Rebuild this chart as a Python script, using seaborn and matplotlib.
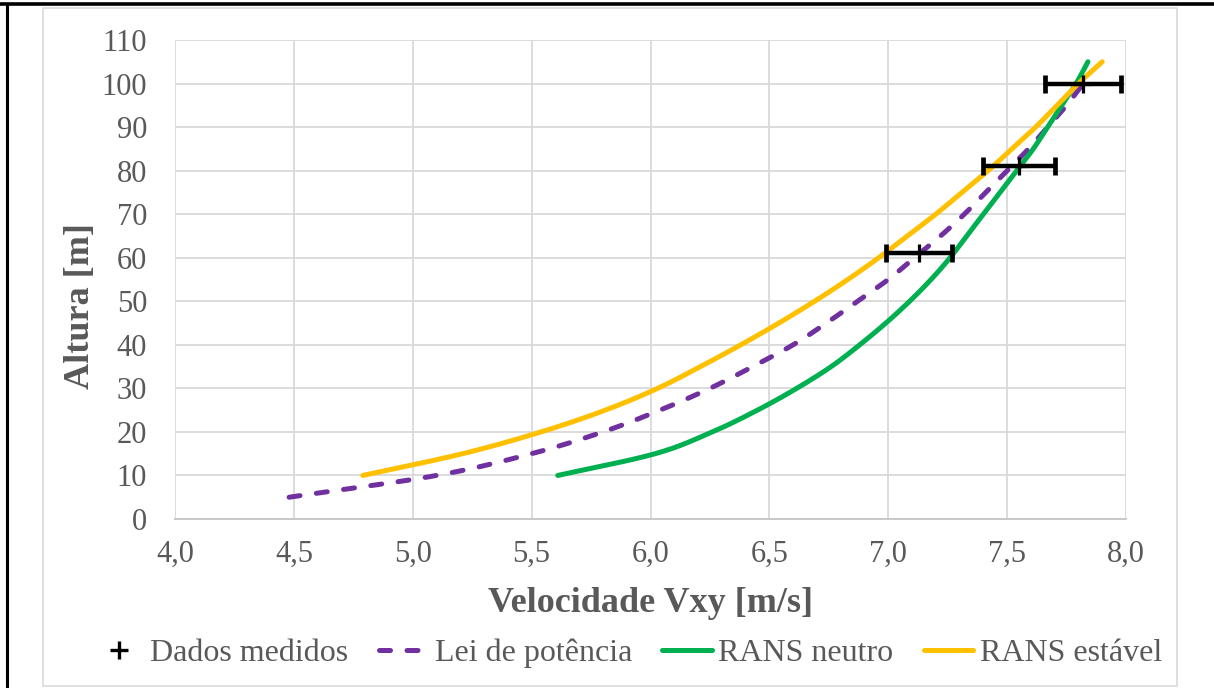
import numpy as np
import pandas as pd
import matplotlib
matplotlib.use("Agg")
import matplotlib.pyplot as plt
from matplotlib.lines import Line2D
from matplotlib.patches import Rectangle
from matplotlib.ticker import FuncFormatter, FixedLocator
import seaborn as sns

# --- dados -----------------------------------------------------------------
# medições com incerteza horizontal
med_altura = [61, 81, 100]
med_vel = [7.13, 7.55, 7.82]
med_erro = [0.14, 0.15, 0.16]

# lei de potência
lei_altura = [5, 10, 15, 20, 25, 30, 35, 40, 45, 50,
              55, 60, 65, 70, 75, 80, 85, 90, 95, 100]
lei_vel = [4.48, 5.10, 5.50, 5.80, 6.04, 6.25, 6.43, 6.60, 6.74, 6.87,
           7.00, 7.11, 7.22, 7.32, 7.41, 7.50, 7.59, 7.67, 7.75, 7.82]

# RANS, atmosfera neutra
neutro_altura = [10, 15, 20, 25, 30, 35, 40, 45, 50, 55,
                 60, 65, 70, 75, 80, 85, 90, 95, 100, 105]
neutro_vel = [5.61, 6.02, 6.26, 6.45, 6.615, 6.76, 6.88, 6.99, 7.09, 7.18,
              7.26, 7.33, 7.40, 7.47, 7.54, 7.61, 7.67, 7.73, 7.79, 7.84]

# RANS, atmosfera estável
estavel_altura = [10, 15, 20, 25, 30, 35, 40, 45, 50, 55,
                  60, 65, 70, 75, 80, 85, 90, 95, 100, 105]
estavel_vel = [4.79, 5.21, 5.54, 5.81, 6.03, 6.21, 6.38, 6.54, 6.69, 6.83,
               6.96, 7.08, 7.20, 7.31, 7.42, 7.52, 7.62, 7.71, 7.80, 7.90]

x_ticks = [4.0, 4.5, 5.0, 5.5, 6.0, 6.5, 7.0, 7.5, 8.0]
y_ticks = [0, 10, 20, 30, 40, 50, 60, 70, 80, 90, 100, 110]

rotulos = ["Dados medidos", "Lei de potência", "RANS neutro", "RANS estável"]
titulo_x = "Velocidade Vxy [m/s]"
titulo_y = "Altura [m]"


def suavizar(x, y, n=16):
    """Traçado suavizado (Catmull-Rom) que passa por todos os pontos."""
    p = np.column_stack([x, y]).astype(float)
    p = np.vstack([2 * p[0] - p[1], p, 2 * p[-1] - p[-2]])
    t = np.linspace(0, 1, n, endpoint=False)[:, None]
    out = []
    for i in range(1, len(p) - 2):
        p0, p1, p2, p3 = p[i - 1], p[i], p[i + 1], p[i + 2]
        seg = 0.5 * ((2 * p1) + (-p0 + p2) * t
                     + (2 * p0 - 5 * p1 + 4 * p2 - p3) * t ** 2
                     + (-p0 + 3 * p1 - 3 * p2 + p3) * t ** 3)
        out.append(seg)
    out.append(p[-2][None, :])
    out = np.vstack(out)
    return out[:, 0], out[:, 1]


# --- estilo ----------------------------------------------------------------
sns.set_theme(style="white")
plt.rcParams["font.family"] = ["Liberation Serif", "DejaVu Serif"]

ROXO = "#7030A0"
VERDE = "#00B050"
AMARELO = "#FFC000"
CINZA_TXT = "#595959"
CINZA_GRADE = "#D9D9D9"
LW = 3.6
TRACO = (2.2, 3.3)

W, H = 1214, 688
fig = plt.figure(figsize=(W / 100, H / 100), dpi=100)
fig.patch.set_facecolor("white")

# área do gráfico
left, right, top, bottom = 175, 1126, 40, 519
ax = fig.add_axes([left / W, 1 - bottom / H, (right - left) / W, (bottom - top) / H])

# moldura externa: borda cinza do gráfico e traço preto em cima/esquerda
fig.patches.append(Rectangle((43 / W, 1 - 686 / H), (1177 - 43) / W, (686 - 8) / H,
                             transform=fig.transFigure, fill=False,
                             edgecolor=CINZA_GRADE, linewidth=1.2, zorder=0))
fig.add_artist(Line2D([0, 1], [1 - 4 / H, 1 - 4 / H], transform=fig.transFigure,
                      color="black", linewidth=2.6))
fig.add_artist(Line2D([7 / W, 7 / W], [0, 1 - 4 / H], transform=fig.transFigure,
                      color="black", linewidth=2.2))

# curvas
series = [
    (lei_vel, lei_altura, ROXO, True),
    (neutro_vel, neutro_altura, VERDE, False),
    (estavel_vel, estavel_altura, AMARELO, False),
]
for vel, alt, cor, tracejada in series:
    sx, sy = suavizar(vel, alt)
    sns.lineplot(x=sx, y=sy, sort=False, estimator=None, ax=ax, color=cor, zorder=3)
    linha = ax.lines[-1]
    linha.set_linewidth(LW)
    if tracejada:
        linha.set_dashes(TRACO)
        linha.set_dash_capstyle("round")
    else:
        linha.set_solid_capstyle("round")

# medições
ax.errorbar(med_vel, med_altura, xerr=med_erro, fmt="none", ecolor="black",
            elinewidth=3.2, capsize=6.5, capthick=3.4, zorder=5)
ax.plot(med_vel, med_altura, linestyle="none", marker="+", markersize=13,
        markeredgewidth=2.3, color="black", zorder=6)

# eixos
ax.set_xlim(4.0, 8.0)
ax.set_ylim(0, 110)
ax.xaxis.set_major_locator(FixedLocator(x_ticks))
ax.yaxis.set_major_locator(FixedLocator(y_ticks))
ax.xaxis.set_major_formatter(FuncFormatter(lambda v, p: f"{v:.1f}".replace(".", ",")))
ax.yaxis.set_major_formatter(FuncFormatter(lambda v, p: f"{v:.0f}"))
ax.grid(True, color=CINZA_GRADE, linewidth=1.3)
ax.set_axisbelow(True)
for lado in ["top", "right", "left"]:
    ax.spines[lado].set_visible(False)
ax.spines["bottom"].set_color("#C8C8C8")
ax.spines["bottom"].set_linewidth(1.4)
ax.tick_params(axis="both", length=0, labelsize=22, labelcolor=CINZA_TXT)
ax.tick_params(axis="y", pad=20)
ax.tick_params(axis="x", pad=15)

ax.set_xlabel(titulo_x, fontsize=26, fontweight="bold", color=CINZA_TXT)
ax.set_ylabel(titulo_y, fontsize=26, fontweight="bold", color=CINZA_TXT)
ax.xaxis.label.set_va("center")
ax.yaxis.label.set_va("center")
ax.xaxis.set_label_coords(0.5005, (bottom - 604) / (bottom - top))
ax.yaxis.set_label_coords((80 - left) / (right - left), (bottom - 306) / (bottom - top))

# legenda
alcas = [
    Line2D([], [], linestyle="none", marker="+", markersize=13, markeredgewidth=2.4,
           color="black"),
    Line2D([], [], color=ROXO, linewidth=LW, dashes=TRACO, dash_capstyle="round"),
    Line2D([], [], color=VERDE, linewidth=LW),
    Line2D([], [], color=AMARELO, linewidth=LW),
]
leg = fig.legend(alcas, rotulos, loc="center", ncol=4, frameon=False,
                 bbox_to_anchor=(628 / W, 1 - 653 / H), fontsize=23,
                 handlelength=1.55, handletextpad=0.2, columnspacing=0.95)
for t in leg.get_texts():
    t.set_color(CINZA_TXT)

fig.savefig("out.png", dpi=100, facecolor="white")
